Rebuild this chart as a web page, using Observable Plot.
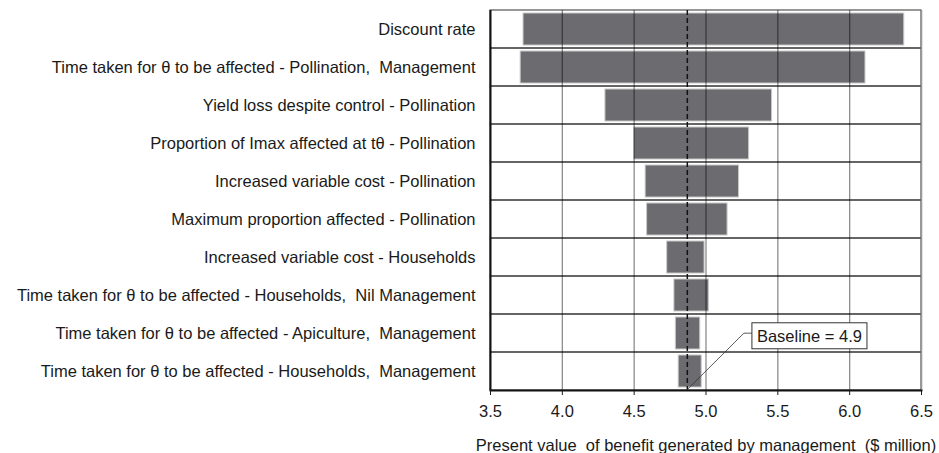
<!DOCTYPE html>
<html>
<head>
<meta charset="utf-8">
<script src="https://cdn.jsdelivr.net/npm/d3@7"></script>
<script src="https://cdn.jsdelivr.net/npm/@observablehq/plot@0.6"></script>
<style>
  body { margin: 0; background: #fff; }
  svg text { white-space: pre; }
</style>
</head>
<body>
<div id="chart"></div>
<script>
// Sensitivity parameters, top to bottom
const parameters = [
  "Discount rate",
  "Time taken for θ to be affected - Pollination,  Management",
  "Yield loss despite control - Pollination",
  "Proportion of Imax affected at tθ - Pollination",
  "Increased variable cost - Pollination",
  "Maximum proportion affected - Pollination",
  "Increased variable cost - Households",
  "Time taken for θ to be affected - Households,  Nil Management",
  "Time taken for θ to be affected - Apiculture,  Management",
  "Time taken for θ to be affected - Households,  Management"
];
// Present value at the low and high end of each parameter range ($ million)
const lowValues  = [3.73, 3.71, 4.30, 4.50, 4.58, 4.59, 4.73, 4.78, 4.79, 4.81];
const highValues = [6.38, 6.11, 5.46, 5.30, 5.23, 5.15, 4.99, 5.02, 4.96, 4.97];
const baseline = 4.87;
const xTicks = [3.5, 4.0, 4.5, 5.0, 5.5, 6.0, 6.5];
const xTitle = "Present value  of benefit generated by management  ($ million)";
// where the baseline callout sits
const callout = [{x: 5.72, y: parameters[8], value: baseline}];

const rows = parameters.map((p, i) => ({parameter: p, low: lowValues[i], high: highValues[i]}));
const fmt = d3.format(".1f");

const chart = Plot.plot({
  width: 939,
  height: 453,
  marginLeft: 490,
  marginRight: 18,
  marginTop: 10,
  marginBottom: 63,
  style: {fontFamily: "'Liberation Sans', Arial, sans-serif", fontSize: "16.5px", color: "#1a1a1a", background: "#fff"},
  x: {domain: [3.5, 6.5]},
  y: {domain: parameters, padding: 0},
  marks: [
    // tornado bars
    Plot.barX(rows, {y: "parameter", x1: "low", x2: "high", fill: "#6b6b70", stroke: "#c9c9c9", strokeWidth: 1, insetTop: 3, insetBottom: 3}),
    // row cells (horizontal separators)
    Plot.barX(parameters, {y: d => d, x1: 3.5, x2: 6.5, fill: "none", stroke: "#333", strokeWidth: 1}),
    // vertical gridlines
    Plot.ruleX(xTicks.slice(1, -1), {stroke: "#000", strokeOpacity: 0.45, strokeWidth: 1.3}),
    Plot.ruleX([6.5], {stroke: "#999", strokeWidth: 1.6}),
    // baseline value
    Plot.ruleX([baseline], {stroke: "#111", strokeWidth: 1.5, strokeDasharray: "5,3"}),
    // axis lines
    Plot.ruleX([3.5], {stroke: "#111", strokeWidth: 2}),
    Plot.frame({anchor: "bottom", stroke: "#111", strokeWidth: 2}),
    Plot.axisX({ticks: xTicks, tickSize: 5, tickPadding: 10, tickFormat: fmt, label: xTitle, labelAnchor: "center", labelArrow: "none", labelOffset: 60}),
    Plot.axisY({tickSize: 0, tickPadding: 15, label: null}),
    // baseline callout
    Plot.text(callout, {x: "x", y: "y", dy: 3, text: d => `Baseline = ${fmt(d.value)}`, fill: "#1a1a1a", ariaLabel: "callout"})
  ]
});

document.getElementById("chart").appendChild(chart);

// Box around the callout text and its leader line down to the baseline
const svg = d3.select(chart);
let label = svg.selectAll("text").filter(function () { return this.textContent.startsWith("Baseline"); });
if (!label.empty()) {
  const node = label.node();
  const bb = node.getBBox();
  const padX = 5, padY = 4;
  const box = {x: bb.x - padX, y: bb.y - padY, w: bb.width + 2 * padX, h: bb.height + 2 * padY};
  d3.select(node.parentNode).insert("rect", () => node)
    .attr("x", box.x).attr("y", box.y).attr("width", box.w).attr("height", box.h)
    .attr("fill", "#fff").attr("stroke", "#333").attr("stroke-width", 1)
    .attr("transform", label.attr("transform"));
  const pt = chart.createSVGPoint();
  pt.x = box.x; pt.y = box.y + box.h * 0.4;
  const p = pt.matrixTransform(node.getScreenCTM()).matrixTransform(chart.getScreenCTM().inverse());
  const x0 = chart.scale("x").apply(baseline);
  const y0 = 453 - 63;
  svg.append("path")
    .attr("d", `M${x0},${y0}L${p.x - 8},${p.y}L${p.x},${p.y}`)
    .attr("fill", "none").attr("stroke", "#333").attr("stroke-width", 0.8);
}
</script>
</body>
</html>
